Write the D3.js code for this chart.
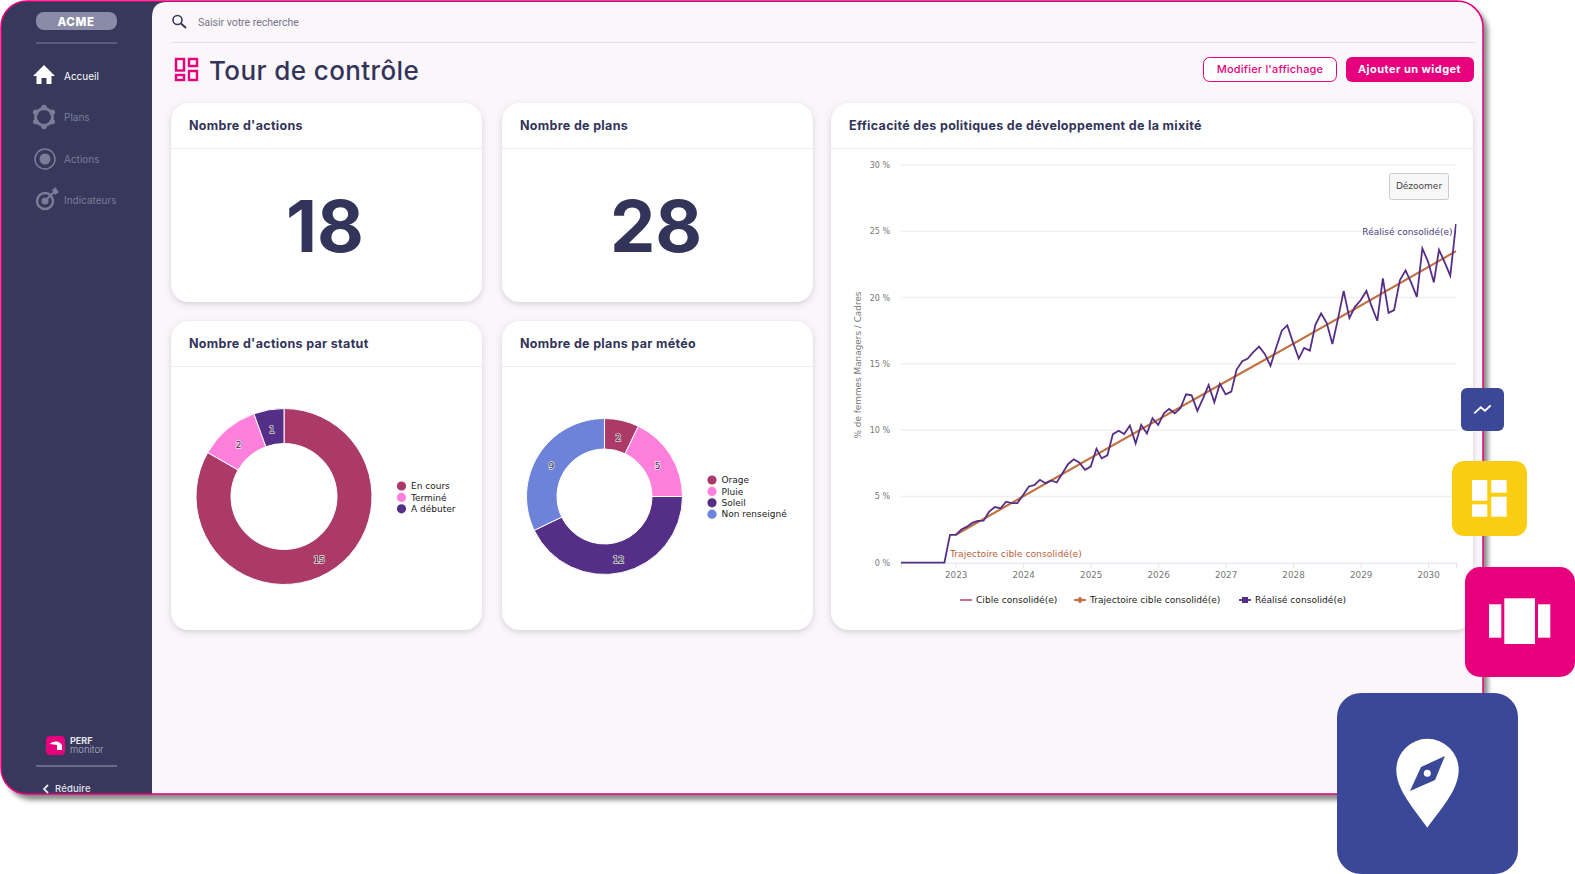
<!DOCTYPE html>
<html>
<head>
<meta charset="utf-8">
<script src="https://d3js.org/d3.v7.min.js"></script>
<style>
  body { margin: 0; background: #fff; }
  svg { display: block; }
  text { font-family: Inter, "Open Sans", sans-serif; }
  .hc text { font-family: "DejaVu Sans", sans-serif; }
</style>
</head>
<body>
<div id="my_dataviz"></div>
<script>
// chart data
var statutLabels = ["En cours", "Terminé", "A débuter"];
var statutValues = [15, 2, 1];
var meteoLabels = ["Orage", "Pluie", "Soleil", "Non renseigné"];
var meteoValues = [2, 5, 12, 9];

var navLabels = ["Accueil", "Plans", "Actions", "Indicateurs"];
var kpiTitles = ["Nombre d'actions", "Nombre de plans"];
var kpiValues = [18, 28];

var yTicks = [0, 5, 10, 15, 20, 25, 30];
var yearTicks = [2023, 2024, 2025, 2026, 2027, 2028, 2029, 2030];
var seriesNames = ["Cible consolidé(e)", "Trajectoire cible consolidé(e)", "Réalisé consolidé(e)"];

// monthly, march 2022 to june 2030
var realise = [
  0, 0, 0, 0, 0, 0, 0, 0, 0, 2.1,
  2.1, 2.5, 2.7, 3.0, 3.15, 3.17, 3.85, 4.2, 4.1, 4.6, 4.5, 4.5,
  5.1, 5.75, 5.85, 6.25, 6.0, 6.2, 6.05, 6.75, 7.45, 7.8, 7.55, 7.0,
  7.25, 8.6, 7.87, 8.1, 9.7, 9.95, 9.7, 10.35, 9.0, 10.4, 9.75, 10.9,
  10.4, 11.27, 11.6, 11.27, 11.65, 12.7, 12.63, 11.45, 12.4, 13.4, 12.1, 13.5,
  12.7, 12.9, 14.55, 15.2, 15.4, 15.9, 16.3, 15.75, 14.85, 16.2, 17.5, 17.9,
  16.6, 15.4, 16.2, 16.0, 17.95, 18.8, 18.1, 16.5, 18.45, 20.5, 18.45, 19.3,
  19.8, 20.5, 19.35, 18.25, 21.45, 18.85, 19.05, 21.3, 22.05, 21.15, 20.05, 23.7,
  22.7, 21.15, 23.6, 22.65, 21.65, 25.55
];
// one point each january, then june 2030
var trajectoireDates = ["2023-01", "2024-01", "2025-01", "2026-01", "2027-01", "2028-01", "2029-01", "2030-01", "2030-06"];
var trajectoire = [2.1, 5.0, 7.9, 10.8, 13.65, 16.5, 19.4, 22.3, 23.5];

var colors = {
  navy: "#37385b", pink: "#e6007e", bg: "#fbf6f9", text: "#32345a",
  crimson: "#ac3a68", rose: "#ff80dc", purple: "#552f87", blue: "#6d82d9",
  orange: "#c4713c", tile: "#3a4897", yellow: "#facc12"
};

var svg = d3.select("#my_dataviz").append("svg")
    .attr("width", 1575)
    .attr("height", 874);

var defs = svg.append("defs");
defs.append("filter").attr("id", "winShadow")
    .attr("x", "-5%").attr("y", "-5%").attr("width", "110%").attr("height", "110%")
  .append("feGaussianBlur").attr("stdDeviation", 2.5);
var cardFilter = defs.append("filter").attr("id", "cardShadow")
    .attr("x", "-10%").attr("y", "-10%").attr("width", "120%").attr("height", "120%");
cardFilter.append("feDropShadow")
    .attr("dx", 0).attr("dy", 2).attr("stdDeviation", 3)
    .attr("flood-color", "#5a5a78").attr("flood-opacity", 0.25);
defs.append("clipPath").attr("id", "winClip")
  .append("rect").attr("x", 1).attr("y", 1).attr("width", 1482).attr("height", 793).attr("rx", 26);

// window frame
svg.append("rect").attr("x", 6).attr("y", 6).attr("width", 1482).attr("height", 794).attr("rx", 26)
    .attr("fill", "#8a8a8a").attr("filter", "url(#winShadow)");
svg.append("rect").attr("x", 1).attr("y", 1).attr("width", 1482).attr("height", 793).attr("rx", 26)
    .attr("fill", colors.navy);

var win = svg.append("g").attr("clip-path", "url(#winClip)");
win.append("path")
    .attr("d", "M152,794V17Q152,2 167,2H1484V794Z")
    .attr("fill", colors.bg);
svg.append("rect").attr("x", 1).attr("y", 1).attr("width", 1482).attr("height", 793).attr("rx", 26)
    .attr("fill", "none").attr("stroke", colors.pink).attr("stroke-width", 1.5);

// sidebar
var side = svg.append("g");
side.append("rect").attr("x", 36).attr("y", 12).attr("width", 81).attr("height", 18).attr("rx", 8).attr("fill", "#8a8ba6");
side.append("text").attr("x", 76).attr("y", 25.5).attr("text-anchor", "middle").attr("letter-spacing", 0.6)
    .attr("font-size", 11.5).attr("font-weight", 800).attr("fill", "#fff").text("ACME");
side.append("line").attr("x1", 36).attr("x2", 117).attr("y1", 43).attr("y2", 43).attr("stroke", "#7e7f9a");

side.selectAll(".nav").data(navLabels).enter().append("text")
    .attr("class", "nav")
    .attr("x", 64)
    .attr("y", function(d, i) { return 79.5 + i * 41.5; })
    .attr("font-size", 10)
    .attr("fill", function(d, i) { return i == 0 ? "#fff" : "#7b7c98"; })
    .text(function(d) { return d; });

var navGrey = "#7b7c98";
// home
side.append("path").attr("d", "M44,65L55,76H51.5V84H46.5V78H41.5V84H36.5V76H33Z").attr("fill", "#fff");
// plans
var plans = side.append("g").attr("transform", "translate(44,117)");
plans.append("circle").attr("r", 8.5).attr("fill", "none").attr("stroke", navGrey).attr("stroke-width", 3);
plans.selectAll("circle.dot").data([30, 90, 150, 210, 270, 330]).enter().append("circle")
    .attr("class", "dot")
    .attr("cx", function(d) { return 9.5 * Math.cos(d * Math.PI / 180); })
    .attr("cy", function(d) { return 9.5 * Math.sin(d * Math.PI / 180); })
    .attr("r", 2.8).attr("fill", navGrey);
// actions
var act = side.append("g").attr("transform", "translate(45,159)");
act.append("circle").attr("r", 10).attr("fill", "none").attr("stroke", navGrey).attr("stroke-width", 1.5);
act.append("circle").attr("r", 5.5).attr("fill", navGrey);
// indicateurs
var ind = side.append("g").attr("transform", "translate(45,201)");
ind.append("circle").attr("r", 8).attr("fill", "none").attr("stroke", navGrey).attr("stroke-width", 2.5);
ind.append("circle").attr("r", 3.5).attr("fill", navGrey);
ind.append("path").attr("d", "M0,0L9,-9").attr("stroke", navGrey).attr("stroke-width", 2);
ind.append("path").attr("d", "M7,-11L11,-14L12,-11L14,-9L10,-6Z").attr("fill", navGrey);

// logo perf
side.append("rect").attr("x", 46).attr("y", 736).attr("width", 19).attr("height", 19).attr("rx", 4).attr("fill", colors.pink);
side.append("path").attr("d", "M50,744A7,6 0 0 1 62,745V750H57V745Z").attr("fill", "#fff");
side.append("text").attr("x", 70).attr("y", 744).attr("font-size", 9).attr("font-weight", 700).attr("fill", "#e5e5ee").text("PERF");
side.append("text").attr("x", 70).attr("y", 753).attr("font-size", 9.5).attr("font-weight", 300).attr("fill", "#b5b6c8").text("monitor");
side.append("line").attr("x1", 36).attr("x2", 117).attr("y1", 766).attr("y2", 766).attr("stroke", "#9a9bb2");
side.append("path").attr("d", "M48,785L44,789L48,793").attr("fill", "none").attr("stroke", "#e5e5ee").attr("stroke-width", 1.8);
side.append("text").attr("x", 55).attr("y", 792).attr("font-size", 9.5).attr("font-weight", 500).attr("letter-spacing", 0.15)
    .attr("fill", "#e5e5ee").text("Réduire");

// top bar
var topBar = svg.append("g");
topBar.append("circle").attr("cx", 177.5).attr("cy", 20).attr("r", 4.5).attr("fill", "none").attr("stroke", colors.navy).attr("stroke-width", 1.6);
topBar.append("line").attr("x1", 181).attr("y1", 23.5).attr("x2", 186).attr("y2", 28).attr("stroke", colors.navy).attr("stroke-width", 2);
topBar.append("text").attr("x", 198).attr("y", 25.5).style("font-family", "Roboto")
    .attr("font-size", 10.5).attr("fill", "#74748a").text("Saisir votre recherche");
topBar.append("line").attr("x1", 171).attr("x2", 1476).attr("y1", 42.5).attr("y2", 42.5).attr("stroke", "#e4e2e8");

// page title
var titleIcon = topBar.append("g").attr("fill", "none").attr("stroke", colors.pink).attr("stroke-width", 2.4);
titleIcon.append("rect").attr("x", 176).attr("y", 59).attr("width", 8).attr("height", 11.5);
titleIcon.append("rect").attr("x", 176).attr("y", 75).attr("width", 8).attr("height", 5);
titleIcon.append("rect").attr("x", 189).attr("y", 59).attr("width", 8).attr("height", 7);
titleIcon.append("rect").attr("x", 189).attr("y", 71).attr("width", 8).attr("height", 9);
topBar.append("text").attr("x", 209).attr("y", 80).attr("font-size", 26).attr("font-weight", 500).attr("letter-spacing", 0.4)
    .attr("fill", colors.text).text("Tour de contrôle");

// buttons
topBar.append("rect").attr("x", 1203.5).attr("y", 57.5).attr("width", 133).attr("height", 24).attr("rx", 6)
    .attr("fill", "#fff").attr("stroke", colors.pink);
topBar.append("text").attr("x", 1270).attr("y", 72.5).attr("text-anchor", "middle").attr("font-size", 11).attr("font-weight", 500)
    .attr("letter-spacing", 0.2).attr("fill", colors.pink).text("Modifier l'affichage");
topBar.append("rect").attr("x", 1346).attr("y", 57).attr("width", 128).attr("height", 25).attr("rx", 6).attr("fill", colors.pink);
topBar.append("text").attr("x", 1409.5).attr("y", 72.5).attr("text-anchor", "middle").attr("font-size", 11).attr("font-weight", 700)
    .attr("letter-spacing", 0.45).attr("fill", "#fff").text("Ajouter un widget");

// cards
function card(x, y, w, h, title, headerY) {
  var g = svg.append("g");
  g.append("rect").attr("x", x).attr("y", y).attr("width", w).attr("height", h).attr("rx", 18)
      .attr("fill", "#fff").attr("filter", "url(#cardShadow)");
  g.append("line").attr("x1", x).attr("x2", x + w).attr("y1", headerY).attr("y2", headerY).attr("stroke", "#eeecf1");
  g.append("text").attr("x", x + 18).attr("y", y + 27).attr("font-size", 12.5).attr("font-weight", 700)
      .attr("letter-spacing", 0.32).attr("fill", colors.text).text(title);
  return g;
}
var card1 = card(171, 103, 311, 199, kpiTitles[0], 148.5);
var card2 = card(502, 103, 311, 199, kpiTitles[1], 148.5);
var card3 = card(171, 321, 311, 309, "Nombre d'actions par statut", 366.5);
var card4 = card(502, 321, 311, 309, "Nombre de plans par météo", 366.5);
var card5 = card(831, 103, 642, 527, "Efficacité des politiques de développement de la mixité", 148.5);

card1.append("text").attr("x", 325).attr("y", 252).attr("text-anchor", "middle")
    .attr("font-size", 72).attr("font-weight", 700).attr("fill", colors.text).text(kpiValues[0]);
card2.append("text").attr("x", 656).attr("y", 252).attr("text-anchor", "middle")
    .attr("font-size", 72).attr("font-weight", 700).attr("fill", colors.text).text(kpiValues[1]);

// donuts
function donut(parent, labels, values, palette, cx, cy, outer, inner, legendX, legendY) {
  var g = parent.append("g").attr("class", "hc");
  var pie = d3.pie().sort(null)(values);
  var arc = d3.arc().innerRadius(inner).outerRadius(outer);
  var chart = g.append("g").attr("transform", "translate(" + cx + "," + cy + ")");
  chart.selectAll("path").data(pie).enter().append("path")
      .attr("d", arc)
      .attr("fill", function(d, i) { return palette[i]; })
      .attr("stroke", "#fff").attr("stroke-width", 1);
  chart.selectAll("text").data(pie).enter().append("text")
      .attr("x", function(d) { return arc.centroid(d)[0]; })
      .attr("y", function(d) { return arc.centroid(d)[1] + 2.5; })
      .attr("dy", "0.35em")
      .attr("text-anchor", "middle")
      .attr("font-size", 9)
      .attr("fill", "#333")
      .attr("stroke", "#fff").attr("stroke-width", 1.5).attr("stroke-opacity", 0.8).attr("paint-order", "stroke")
      .text(function(d) { return d.value; });

  var legend = g.selectAll(".legend").data(labels).enter().append("g")
      .attr("class", "legend")
      .attr("transform", function(d, i) { return "translate(" + legendX + "," + (legendY + i * 11.4) + ")"; });
  legend.append("circle").attr("r", 4.6).attr("fill", function(d, i) { return palette[i]; });
  legend.append("text").attr("x", 9.5).attr("dy", "0.35em").attr("font-size", 9)
      .attr("fill", "#222").text(function(d) { return d; });
}
var palette = [colors.crimson, colors.rose, colors.purple, colors.blue];
donut(card3, statutLabels, statutValues, [colors.crimson, colors.rose, colors.purple], 284, 496.5, 88, 53, 401.5, 486);
donut(card4, meteoLabels, meteoValues, palette, 604.5, 496.5, 78, 47.5, 712, 480);

// line chart
var plot = card5.append("g").attr("class", "hc");
var parseMonth = d3.timeParse("%Y-%m");
var months = d3.timeMonth.range(new Date(2022, 2, 1), new Date(2030, 6, 1));

var x = d3.scaleTime()
    .domain([new Date(2022, 2, 11), new Date(2030, 5, 1)])
    .range([901, 1456]);
var y = d3.scaleLinear()
    .domain([0, 30])
    .range([562.7, 165]);

plot.append("g")
    .attr("transform", "translate(901,0)")
    .call(d3.axisLeft(y).tickValues(yTicks).tickSize(0).tickPadding(11).tickFormat(function(d) { return d + " %"; }))
    .call(function(g) { g.select(".domain").remove(); })
    .call(function(g) {
      g.selectAll("text").attr("font-size", 8).attr("fill", "#777").style("font-family", "DejaVu Sans");
    });
plot.append("g").selectAll("line").data(yTicks.slice(1)).enter().append("line")
    .attr("x1", 901).attr("x2", 1456)
    .attr("y1", function(d) { return y(d); }).attr("y2", function(d) { return y(d); })
    .attr("stroke", "#f0f0f0").attr("stroke-width", 1.5);

plot.append("g")
    .attr("transform", "translate(0,562.7)")
    .call(d3.axisBottom(x)
      .tickValues(yearTicks.map(function(d) { return new Date(d, 0, 1); }))
      .tickSize(5).tickPadding(4).tickFormat(d3.timeFormat("%Y")))
    .call(function(g) {
      g.select(".domain").attr("stroke", "#dde3f0");
      g.selectAll("line").attr("stroke", "#dde3f0");
      g.selectAll("text").attr("font-size", 8.8).attr("fill", "#777").style("font-family", "DejaVu Sans");
    });

plot.append("text")
    .attr("transform", "translate(861,365) rotate(-90)")
    .attr("text-anchor", "middle").attr("font-size", 8.9).attr("fill", "#777")
    .text("% de femmes Managers / Cadres");

var line = d3.line()
    .x(function(d) { return x(d.date); })
    .y(function(d) { return y(d.value); });
var trajData = trajectoire.map(function(v, i) { return {date: parseMonth(trajectoireDates[i]), value: v}; });
var realData = realise.map(function(v, i) { return {date: months[i], value: v}; });

defs.append("clipPath").attr("id", "plotClip")
  .append("rect").attr("x", 901).attr("y", 150).attr("width", 555.5).attr("height", 420);
var lines = plot.append("g").attr("clip-path", "url(#plotClip)");
lines.append("path").datum(trajData).attr("d", line).attr("fill", "none").attr("stroke", "#c7608f").attr("stroke-width", 1.5);
lines.append("path").datum(trajData).attr("d", line).attr("fill", "none").attr("stroke", colors.orange).attr("stroke-width", 2);
lines.append("path").datum(realData).attr("d", line).attr("fill", "none").attr("stroke", colors.purple).attr("stroke-width", 1.8);

plot.append("text").attr("x", 950).attr("y", 556.5).attr("font-size", 9.2).attr("fill", "#b85f3c")
    .attr("stroke", "#fff").attr("stroke-width", 1.5).attr("paint-order", "stroke").text(seriesNames[1]);
plot.append("text").attr("x", 1452.5).attr("y", 235).attr("text-anchor", "end").attr("font-size", 9).attr("fill", "#4a3a80")
    .attr("stroke", "#fff").attr("stroke-width", 1.5).attr("paint-order", "stroke").text(seriesNames[2]);

// dezoomer
plot.append("rect").attr("x", 1389.5).attr("y", 173.5).attr("width", 59).attr("height", 26).attr("rx", 2)
    .attr("fill", "#f7f7f7").attr("stroke", "#cccccc");
plot.append("text").attr("x", 1419).attr("y", 188.5).attr("text-anchor", "middle").attr("font-size", 9).attr("fill", "#444").text("Dézoomer");

// legend of the line chart
var legendColors = ["#c7608f", colors.orange, colors.purple];
var legendXs = [960, 1074, 1239];
var lg = plot.selectAll(".lg").data(seriesNames).enter().append("g")
    .attr("class", "lg")
    .attr("transform", function(d, i) { return "translate(" + legendXs[i] + ",600)"; });
lg.append("line").attr("x1", 0).attr("x2", 12)
    .attr("stroke", function(d, i) { return legendColors[i]; }).attr("stroke-width", 1.8);
lg.filter(function(d, i) { return i == 1; }).append("path").attr("d", "M6,-3.5L9.5,0L6,3.5L2.5,0Z").attr("fill", colors.orange);
lg.filter(function(d, i) { return i == 2; }).append("rect").attr("x", 3).attr("y", -3).attr("width", 6).attr("height", 6).attr("fill", colors.purple);
lg.append("text").attr("x", 16).attr("dy", "0.35em").attr("font-size", 9.1).attr("fill", "#222").text(function(d) { return d; });

// floating tiles
var tiles = svg.append("g");
tiles.append("rect").attr("x", 1461).attr("y", 388).attr("width", 43).attr("height", 43).attr("rx", 6).attr("fill", colors.tile);
tiles.append("path").attr("d", "M1474.3,413.3L1480.7,407.3L1485,410.7L1490.7,405.3")
    .attr("fill", "none").attr("stroke", "#fff").attr("stroke-width", 1.8);

tiles.append("rect").attr("x", 1452).attr("y", 461).attr("width", 75).attr("height", 75).attr("rx", 12).attr("fill", colors.yellow);
[[1472, 480, 15.3, 20.7], [1491.3, 480, 15.4, 12.7], [1472, 504.3, 15.3, 12.4], [1491.3, 496.7, 15.4, 20]].forEach(function(r) {
  tiles.append("rect").attr("x", r[0]).attr("y", r[1]).attr("width", r[2]).attr("height", r[3]).attr("fill", "#fff");
});

tiles.append("rect").attr("x", 1465).attr("y", 567).attr("width", 110).attr("height", 110).attr("rx", 15).attr("fill", colors.pink);
[[1489, 604.3, 12.3, 33.4], [1504.3, 598.3, 30.7, 45.7], [1538, 604.3, 12.3, 33.4]].forEach(function(r) {
  tiles.append("rect").attr("x", r[0]).attr("y", r[1]).attr("width", r[2]).attr("height", r[3]).attr("fill", "#fff");
});

tiles.append("rect").attr("x", 1337).attr("y", 693).attr("width", 181).attr("height", 181).attr("rx", 24).attr("fill", colors.tile);
tiles.append("path")
    .attr("d", "M1427.3,827.7C1415,810 1396.3,790 1396.3,770A31,31 0 0 1 1458.7,770C1458.7,790 1440,810 1427.3,827.7Z")
    .attr("fill", "#fff");
tiles.append("path").attr("d", "M1445,756L1435,780L1410,791L1421,767Z").attr("fill", colors.tile);
tiles.append("circle").attr("cx", 1427.3).attr("cy", 773.3).attr("r", 3.5).attr("fill", "#fff");
</script>
</body>
</html>
